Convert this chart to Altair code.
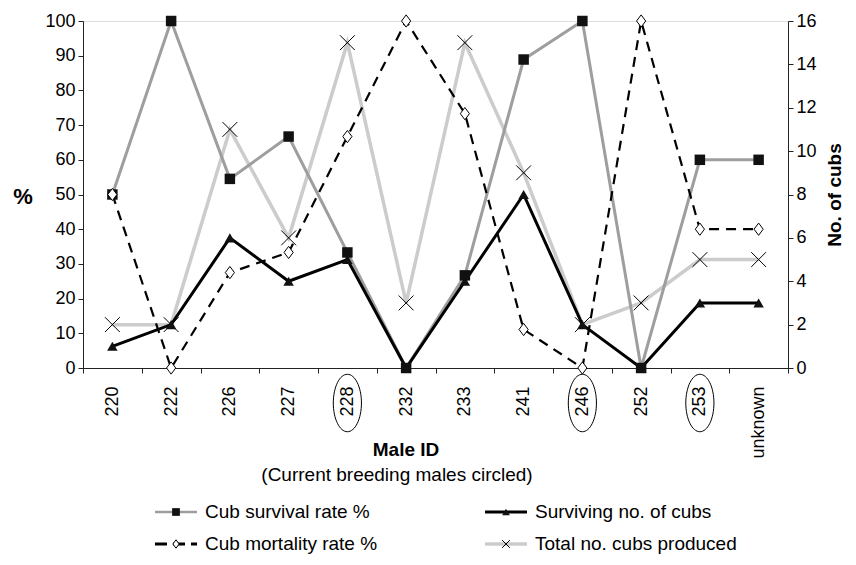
import altair as alt
import pandas as pd

# ---- data ----
male_ids = ["220", "222", "226", "227", "228", "232", "233", "241", "246", "252", "253", "unknown"]
survival_rate = [50, 100, 54.5, 66.7, 33.3, 0, 26.7, 88.9, 100, 0, 60, 60]
mortality_rate = [50, 0, 27.5, 33.3, 66.7, 100, 73.3, 11.1, 0, 100, 40, 40]
surviving_cubs = [1, 2, 6, 4, 5, 0, 4, 8, 2, 0, 3, 3]
total_cubs = [2, 2, 11, 6, 15, 3, 15, 9, 2, 3, 5, 5]
circled_males = ["228", "246", "253"]

df = pd.DataFrame({
    "male": male_ids,
    "survival": survival_rate,
    "mortality": mortality_rate,
    "surviving": surviving_cubs,
    "total": total_cubs,
})
circ_df = pd.DataFrame({"male": circled_males})
one = pd.DataFrame({"k": [0]})

FONT = "Liberation Sans"
AX = "#222222"

x_axis = alt.Axis(
    title=None, labelAngle=270, labelFontSize=18, labelFont=FONT, labelColor="black",
    labelPadding=13, tickBand="extent", tickSize=5, tickColor=AX, domainColor=AX,
    labelAlign="right", labelBaseline="middle", grid=False,
)
x_enc = alt.X("male:N", sort=male_ids,
              scale=alt.Scale(type="band", paddingInner=0, paddingOuter=0),
              axis=x_axis, bandPosition=0.5)

left_scale = alt.Scale(domain=[0, 100], nice=False)
right_scale = alt.Scale(domain=[0, 16], nice=False)
left_axis = alt.Axis(orient="left", title=None, values=list(range(0, 101, 10)),
                     labelFontSize=18, labelFont=FONT, labelColor="black", tickSize=5,
                     labelPadding=3, tickColor=AX, domainColor=AX, grid=False)
right_axis = alt.Axis(orient="right", title=None, values=list(range(0, 17, 2)),
                      labelFontSize=18, labelFont=FONT, labelColor="black", tickSize=5,
                      labelPadding=3, tickColor=AX, domainColor=AX, grid=False)

base = alt.Chart(df)

DIAMOND = "M0,-1L0.75,0L0,1L-0.75,0Z"
XMARK = "M-1,-1L1,1M-1,1L1,-1"
ELLIPSE = "M0,-1A0.49,1 0 1 1 0,1A0.49,1 0 1 1 0,-1Z"

total_line = base.mark_line(color="#cccccc", strokeWidth=3.5).encode(
    x=x_enc, y=alt.Y("total:Q", scale=right_scale, axis=right_axis))
survival_line = base.mark_line(color="#9e9e9e", strokeWidth=3).encode(
    x=x_enc, y=alt.Y("survival:Q", scale=left_scale, axis=left_axis))
mortality_line = base.mark_line(color="black", strokeWidth=2.2, strokeDash=[10, 7]).encode(
    x=x_enc, y=alt.Y("mortality:Q", scale=left_scale, axis=None))
surviving_line = base.mark_line(color="black", strokeWidth=3).encode(
    x=x_enc, y=alt.Y("surviving:Q", scale=right_scale, axis=None))

survival_pts = base.mark_point(shape="square", filled=True, color="#111111", size=110, opacity=1).encode(
    x=x_enc, y=alt.Y("survival:Q", scale=left_scale, axis=None))
total_pts = base.mark_point(shape=XMARK, filled=False, color="black", strokeWidth=1, size=220, opacity=1).encode(
    x=x_enc, y=alt.Y("total:Q", scale=right_scale, axis=None))
surviving_pts = base.mark_point(shape="triangle-up", filled=True, color="#111111", size=110, opacity=1).encode(
    x=x_enc, y=alt.Y("surviving:Q", scale=right_scale, axis=None))
mortality_pts = base.mark_point(shape=DIAMOND, filled=True, fill="white", stroke="black",
                                strokeWidth=1, size=150, opacity=1).encode(
    x=x_enc, y=alt.Y("mortality:Q", scale=left_scale, axis=None))

ellipses = alt.Chart(circ_df).mark_point(shape=ELLIPSE, filled=False, color="black",
                                         strokeWidth=1, size=3300, opacity=1).encode(
    x=x_enc, y=alt.value(382))


def text(t, x, y, size=19, bold=False, angle=0, align="center"):
    return alt.Chart(one).mark_text(
        text=t, font=FONT, fontSize=size, fontWeight="bold" if bold else "normal",
        angle=angle, align=align, baseline="middle", color="black"
    ).encode(x=alt.value(x), y=alt.value(y))


decor = [
    text("%", -60, 176, size=22, bold=True),
    text("No. of cubs", 752, 174, size=19, bold=True, angle=270),
    text("Male ID", 323, 429, size=19, bold=True),
    text("(Current breeding males circled)", 314, 454, size=19),
]


def legend_item(label, x0, y, line_color, line_width, dash, shape, filled, fill, size):
    rule_kwargs = dict(color=line_color, strokeWidth=line_width)
    if dash:
        rule_kwargs["strokeDash"] = dash
    r = alt.Chart(one).mark_rule(**rule_kwargs).encode(
        x=alt.value(x0), x2=alt.value(x0 + 42), y=alt.value(y))
    pt_kwargs = dict(shape=shape, size=size, opacity=1)
    if filled:
        pt_kwargs.update(filled=True, color=fill)
    elif fill:
        pt_kwargs.update(filled=True, fill=fill, stroke="black", strokeWidth=1)
    else:
        pt_kwargs.update(filled=False, color="black", strokeWidth=1)
    p = alt.Chart(one).mark_point(**pt_kwargs).encode(x=alt.value(x0 + 21), y=alt.value(y))
    t = text(label, x0 + 50, y, size=19, align="left")
    return [r, p, t]


legend = []
legend += legend_item("Cub survival rate %", 72, 491, "#9e9e9e", 2.5, None, "square", True, "#111111", 60)
legend += legend_item("Surviving no. of cubs", 402, 491, "black", 3, None, "triangle-up", True, "#111111", 60)
legend += legend_item("Cub mortality rate %", 72, 523, "black", 3, [12, 6], DIAMOND, False, "white", 70)
legend += legend_item("Total no. cubs produced", 402, 523, "#cccccc", 3.5, None, XMARK, False, None, 60)

chart = alt.layer(
    total_line, survival_line, mortality_line, surviving_line,
    survival_pts, total_pts, surviving_pts, mortality_pts,
    ellipses, *decor, *legend,
).resolve_scale(y="independent").properties(
    width=705, height=347,
    padding={"left": 75, "top": 13, "right": 60, "bottom": 189},
    autosize=alt.AutoSizeParams(type="none"),
).configure_view(stroke=None).configure(background="white")

chart.save("out.html", embed_options={"renderer": "svg", "actions": False})
